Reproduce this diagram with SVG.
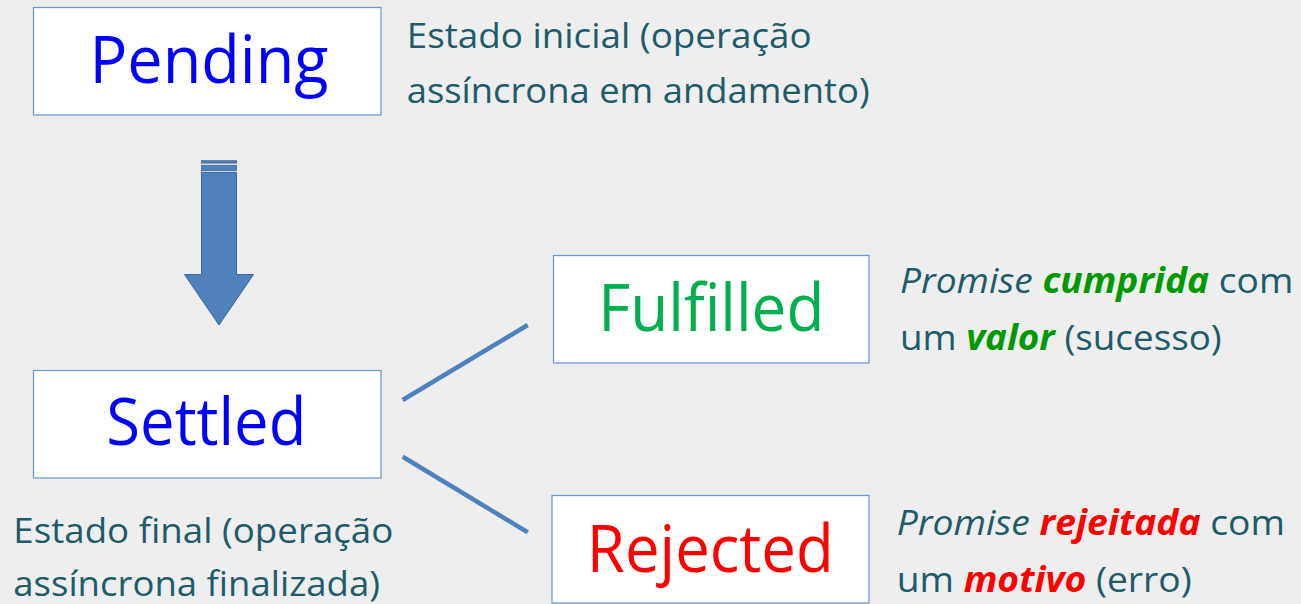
<svg xmlns="http://www.w3.org/2000/svg" width="1301" height="604" viewBox="0 0 1301 604">
<style>
.box{fill:#ffffff;stroke:#6f9bd8;stroke-width:1.3}
.lbl{font-family:"Open Sans","Noto Sans","Liberation Sans",sans-serif;font-size:66px;text-anchor:middle}
.txt{font-family:"Open Sans","Noto Sans","Liberation Sans",sans-serif;font-size:35px;fill:#215a69}
.it{font-style:italic}
.bi{font-style:italic;font-weight:bold}
.conn{stroke:#4f81bd;stroke-width:4.5;fill:none}
</style>
<rect width="1301" height="604" fill="#eeeeee"/>
<g id="connectors">
<g id="arrow-pending-settled">
<rect x="201.5" y="160.7" width="35" height="2.4" fill="#4f81bd" stroke="#3d6699" stroke-width="0.8"/>
<rect x="201.5" y="165.3" width="35" height="5.2" fill="#4f81bd" stroke="#3d6699" stroke-width="0.8"/>
<path d="M201.5 172.3 H236.5 V274.5 H253.5 L219 325 L184.5 274.5 H201.5 Z" fill="#4f81bd" stroke="#3d6699" stroke-width="1"/>
</g>
<line class="conn" x1="402.7" y1="400" x2="527.7" y2="325"/>
<line class="conn" x1="402.7" y1="456.7" x2="527.7" y2="532.3"/>
</g>
<g id="pending">
<rect class="box" x="33.5" y="7.5" width="347.5" height="107.5"/>
<text class="lbl" x="209" y="83.3" fill="#0000ff" textLength="239" lengthAdjust="spacingAndGlyphs">Pending</text>
</g>
<g id="settled">
<rect class="box" x="33.5" y="370.5" width="347.5" height="107.5"/>
<text class="lbl" x="206.3" y="445" fill="#0000ff" textLength="200" lengthAdjust="spacingAndGlyphs">Settled</text>
</g>
<g id="fulfilled">
<rect class="box" x="553.5" y="255.5" width="315.5" height="107.5"/>
<text class="lbl" x="711.3" y="330.7" fill="#00b050" textLength="226" lengthAdjust="spacingAndGlyphs">Fulfilled</text>
</g>
<g id="rejected">
<rect class="box" x="552" y="495.5" width="317" height="107.5"/>
<text class="lbl" x="710.3" y="571.7" fill="#ff0000" textLength="247" lengthAdjust="spacingAndGlyphs">Rejected</text>
</g>
<g id="desc-pending">
<text class="txt" x="406.7" y="48.3" textLength="405" lengthAdjust="spacingAndGlyphs">Estado inicial (operação</text>
<text class="txt" x="406.7" y="103.3" textLength="463" lengthAdjust="spacingAndGlyphs">assíncrona em andamento)</text>
</g>
<g id="desc-settled">
<text class="txt" x="13.3" y="542.7" textLength="380" lengthAdjust="spacingAndGlyphs">Estado final (operação</text>
<text class="txt" x="13.3" y="595.5" textLength="366.7" lengthAdjust="spacingAndGlyphs">assíncrona finalizada)</text>
</g>
<g id="desc-fulfilled">
<text class="txt" x="900" y="293.3" textLength="393.3" lengthAdjust="spacingAndGlyphs"><tspan class="it">Promise </tspan><tspan class="bi" fill="#009a00">cumprida</tspan> com</text>
<text class="txt" x="900" y="350" textLength="321.7" lengthAdjust="spacingAndGlyphs">um <tspan class="bi" fill="#009a00">valor</tspan> (sucesso)</text>
</g>
<g id="desc-rejected">
<text class="txt" x="896.7" y="535" textLength="388.3" lengthAdjust="spacingAndGlyphs"><tspan class="it">Promise </tspan><tspan class="bi" fill="#ff0000">rejeitada</tspan> com</text>
<text class="txt" x="896.7" y="591.7" textLength="295" lengthAdjust="spacingAndGlyphs">um <tspan class="bi" fill="#ff0000">motivo</tspan> (erro)</text>
</g>
</svg>
